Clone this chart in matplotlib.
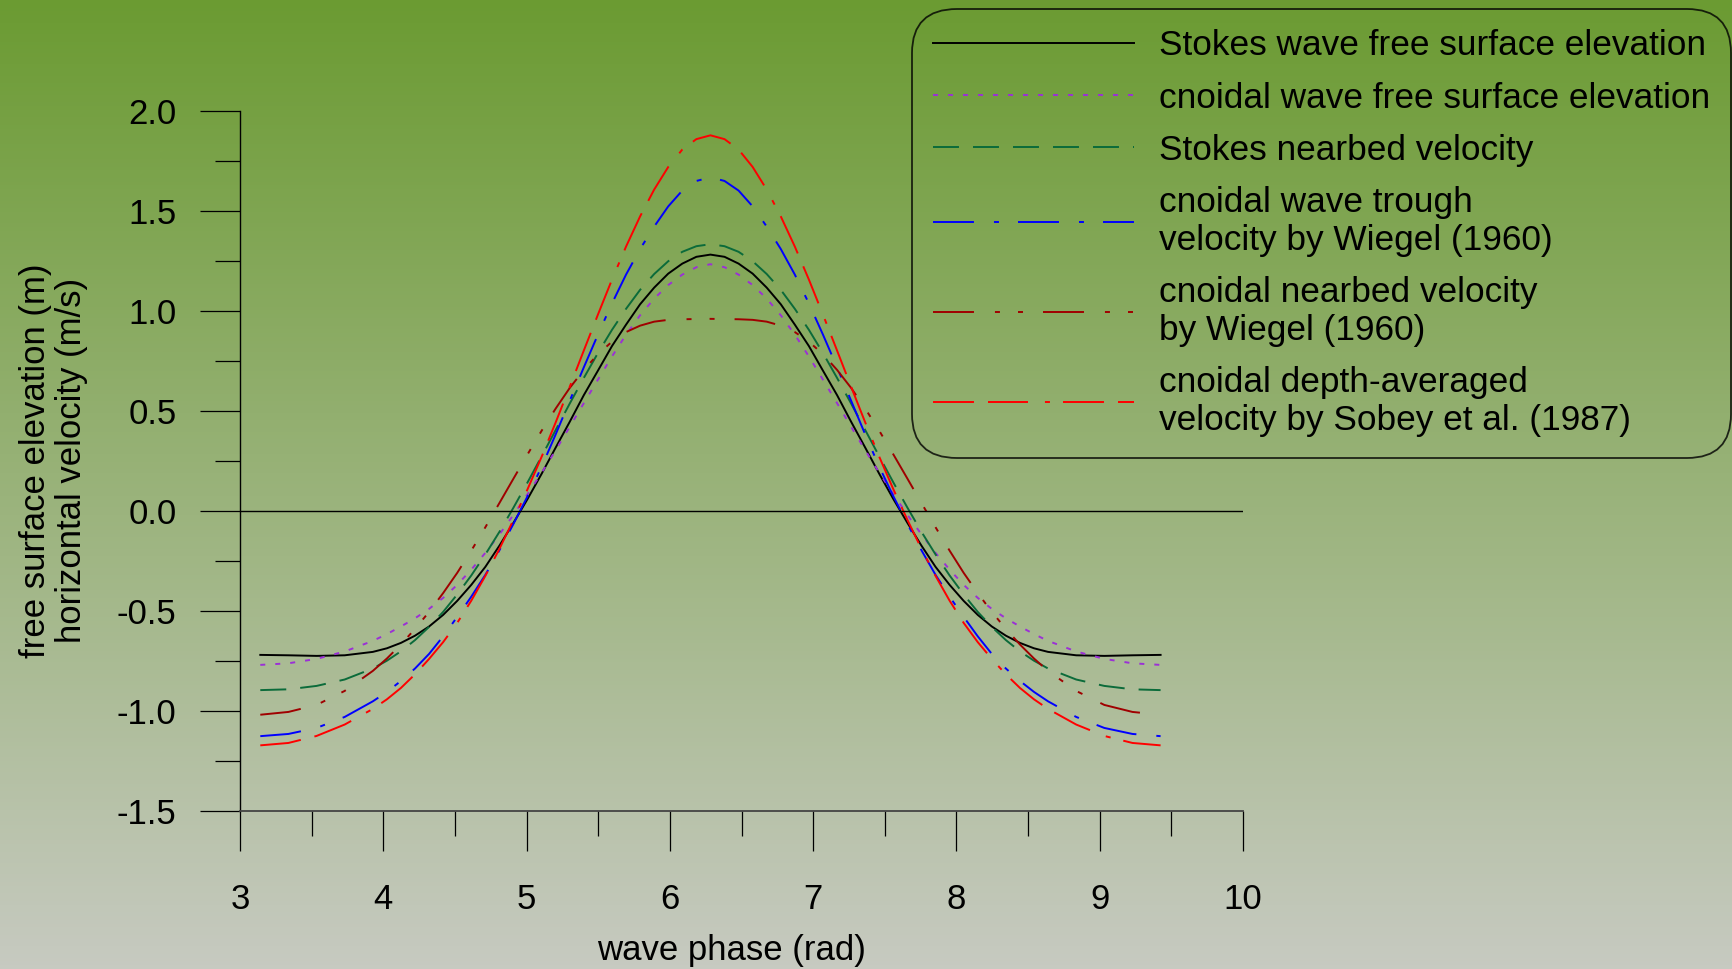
import matplotlib.pyplot as plt
import numpy as np
from matplotlib.ticker import MultipleLocator, FormatStrFormatter

plt.rcParams['font.family'] = ['Liberation Sans', 'DejaVu Sans']
plt.rcParams['axes.unicode_minus'] = False
plt.rcParams['lines.scale_dashes'] = False

# wave phase (rad), one wave period from pi to 3*pi
phase = [3.1416, 3.3379, 3.5343, 3.7306, 3.9270, 4.0252, 4.1233, 4.2215, 4.3197, 4.4179,
         4.5160, 4.6142, 4.7124, 4.8106, 4.9087, 5.0069, 5.1051, 5.2033, 5.3014, 5.3996,
         5.4978, 5.5960, 5.6941, 5.7923, 5.8905, 5.9887, 6.0868, 6.1850, 6.2832,
         6.3814, 6.4795, 6.5777, 6.6759, 6.7741, 6.8722, 6.9704, 7.0686, 7.1668, 7.2649,
         7.3631, 7.4613, 7.5595, 7.6576, 7.7558, 7.8540, 7.9522, 8.0503, 8.1485, 8.2467,
         8.3449, 8.4430, 8.5412, 8.6394, 8.8357, 9.0321, 9.2284, 9.4248]

stokes_eta = [-0.720, -0.722, -0.725, -0.722, -0.705, -0.687, -0.660, -0.624, -0.578, -0.520,
              -0.450, -0.370, -0.280, -0.174, -0.060, 0.059, 0.185, 0.316, 0.445, 0.578,
              0.700, 0.823, 0.930, 1.032, 1.115, 1.185, 1.235, 1.269, 1.280,
              1.269, 1.235, 1.185, 1.115, 1.032, 0.930, 0.823, 0.700, 0.578, 0.445,
              0.316, 0.185, 0.059, -0.060, -0.174, -0.280, -0.370, -0.450, -0.520, -0.578,
              -0.624, -0.660, -0.687, -0.705, -0.722, -0.725, -0.722, -0.720]

cnoidal_eta = [-0.770, -0.762, -0.740, -0.703, -0.650, -0.616, -0.578, -0.537, -0.490, -0.435,
               -0.370, -0.294, -0.210, -0.118, -0.020, 0.083, 0.190, 0.303, 0.420, 0.538,
               0.655, 0.771, 0.880, 0.977, 1.060, 1.128, 1.180, 1.217, 1.232,
               1.217, 1.180, 1.128, 1.060, 0.977, 0.880, 0.771, 0.655, 0.538, 0.420,
               0.303, 0.190, 0.083, -0.020, -0.118, -0.210, -0.294, -0.370, -0.435, -0.490,
               -0.537, -0.578, -0.616, -0.650, -0.703, -0.740, -0.762, -0.770]

stokes_ub = [-0.896, -0.892, -0.875, -0.843, -0.788, -0.749, -0.702, -0.646, -0.580, -0.505,
             -0.418, -0.323, -0.218, -0.105, 0.016, 0.142, 0.272, 0.404, 0.536, 0.664,
             0.788, 0.904, 1.009, 1.104, 1.183, 1.247, 1.294, 1.322, 1.332,
             1.322, 1.294, 1.247, 1.183, 1.104, 1.009, 0.904, 0.788, 0.664, 0.536,
             0.404, 0.272, 0.142, 0.016, -0.105, -0.218, -0.323, -0.418, -0.505, -0.580,
             -0.646, -0.702, -0.749, -0.788, -0.843, -0.875, -0.892, -0.896]

wiegel_trough = [-1.126, -1.115, -1.085, -1.030, -0.952, -0.905, -0.850, -0.788, -0.715, -0.627,
                 -0.530, -0.429, -0.320, -0.197, -0.065, 0.073, 0.220, 0.382, 0.550, 0.717,
                 0.880, 1.036, 1.180, 1.308, 1.420, 1.521, 1.600, 1.648, 1.666,
                 1.648, 1.600, 1.521, 1.420, 1.308, 1.180, 1.036, 0.880, 0.717, 0.550,
                 0.382, 0.220, 0.073, -0.065, -0.197, -0.320, -0.429, -0.530, -0.627, -0.715,
                 -0.788, -0.850, -0.905, -0.952, -1.030, -1.085, -1.115, -1.126]

wiegel_ub = [-1.019, -1.005, -0.970, -0.900, -0.800, -0.738, -0.668, -0.590, -0.505, -0.411,
             -0.310, -0.199, -0.082, 0.039, 0.161, 0.282, 0.400, 0.511, 0.614, 0.704,
             0.782, 0.845, 0.893, 0.925, 0.945, 0.954, 0.957, 0.958, 0.959,
             0.958, 0.957, 0.954, 0.945, 0.925, 0.893, 0.845, 0.782, 0.704, 0.614,
             0.511, 0.400, 0.282, 0.161, 0.039, -0.082, -0.199, -0.310, -0.411, -0.505,
             -0.590, -0.668, -0.738, -0.800, -0.900, -0.970, -1.005, -1.019]

sobey_u = [-1.172, -1.160, -1.125, -1.068, -0.990, -0.942, -0.885, -0.817, -0.740, -0.656,
           -0.560, -0.449, -0.325, -0.190, -0.045, 0.108, 0.270, 0.442, 0.620, 0.801,
           0.980, 1.155, 1.320, 1.471, 1.605, 1.718, 1.805, 1.857, 1.876,
           1.857, 1.805, 1.718, 1.605, 1.471, 1.320, 1.155, 0.980, 0.801, 0.620,
           0.442, 0.270, 0.108, -0.045, -0.190, -0.325, -0.449, -0.560, -0.656, -0.740,
           -0.817, -0.885, -0.942, -0.990, -1.068, -1.125, -1.160, -1.172]

labels = ["Stokes wave free surface elevation",
          "cnoidal wave free surface elevation",
          "Stokes nearbed velocity",
          "cnoidal wave trough\nvelocity by Wiegel (1960)",
          "cnoidal nearbed velocity\nby Wiegel (1960)",
          "cnoidal depth-averaged\nvelocity by Sobey et al. (1987)"]

fig = plt.figure(figsize=(17.33, 9.69), dpi=100)

# green to grey background over the whole figure
bg = fig.add_axes([0, 0, 1, 1], zorder=-10)
top = np.array([107, 155, 50]) / 255
bottom = np.array([199, 202, 193]) / 255
t = np.linspace(0, 1, 256)[:, None]
grad = top * (1 - t) + bottom * t
bg.imshow(grad[:, None, :], aspect='auto', extent=[0, 1, 0, 1])
bg.set_axis_off()

ax = fig.add_axes([0.13849, 0.16305, 0.57877, 0.72291])
ax.patch.set_alpha(0)

lw = 1.4
ax.plot(phase, stokes_eta, color='black', lw=lw, label=labels[0])
ax.plot(phase, cnoidal_eta, color='#9b30d6', lw=lw, dashes=(3.6, 7.2), label=labels[1])
ax.plot(phase, stokes_ub, color='#0b6b3a', lw=lw, dashes=(18.7, 10.1), label=labels[2])
ax.plot(phase, wiegel_trough, color='#0000ff', lw=lw,
        dashes=(29.5, 14.4, 3.6, 13.7), label=labels[3])
ax.plot(phase, wiegel_ub, color='#a00000', lw=lw,
        dashes=(29.5, 15.1, 3.6, 13.0, 3.6, 14.4), label=labels[4])
ax.plot(phase, sobey_u, color='#ff0000', lw=lw,
        dashes=(29.5, 10.1, 28.8, 12.2, 3.6, 9.4), label=labels[5])

ax.axhline(0, color='black', lw=1.0)

ax.set_xlim(3, 10)
ax.set_ylim(-1.5, 2.0)
ax.xaxis.set_major_locator(MultipleLocator(1))
ax.xaxis.set_minor_locator(MultipleLocator(0.5))
ax.yaxis.set_major_locator(MultipleLocator(0.5))
ax.yaxis.set_minor_locator(MultipleLocator(0.25))
ax.yaxis.set_major_formatter(FormatStrFormatter('%.1f'))

for s in ['top', 'right']:
    ax.spines[s].set_visible(False)
ax.spines['left'].set_linewidth(1.0)
ax.spines['bottom'].set_linewidth(1.3)
ax.spines['bottom'].set_color('#444444')

ax.tick_params(axis='both', which='major', direction='out', length=28.8, width=0.9,
               labelsize=25)
ax.tick_params(axis='both', which='minor', direction='out', length=18, width=0.9)
ax.tick_params(axis='x', which='major', pad=23)
ax.tick_params(axis='y', which='major', pad=17)

ax.set_xlabel("wave phase (rad)", fontsize=25)
ax.xaxis.set_label_coords(0.4905, -0.176)
ax.set_ylabel("free surface elevation (m)\nhorizontal velocity (m/s)", fontsize=25,
              linespacing=1.1)
ax.yaxis.set_label_coords(-0.152, 0.5)

# legend box pinned to the top right corner of the figure
leg = ax.legend(loc='upper right', bbox_to_anchor=(1731 / 1733, 1 - 9 / 969),
                bbox_transform=fig.transFigure, fontsize=25.4, frameon=True,
                fancybox=True, handlelength=5.7, handletextpad=0.72,
                borderpad=0.58, labelspacing=0.54, borderaxespad=0)
frame = leg.get_frame()
frame.set_facecolor('none')
frame.set_edgecolor('black')
frame.set_linewidth(1.3)
frame.set_boxstyle('round', pad=0, rounding_size=1.25)
for txt in leg.get_texts():
    txt.set_linespacing(1.2)

fig.savefig("out.png", dpi=100)
